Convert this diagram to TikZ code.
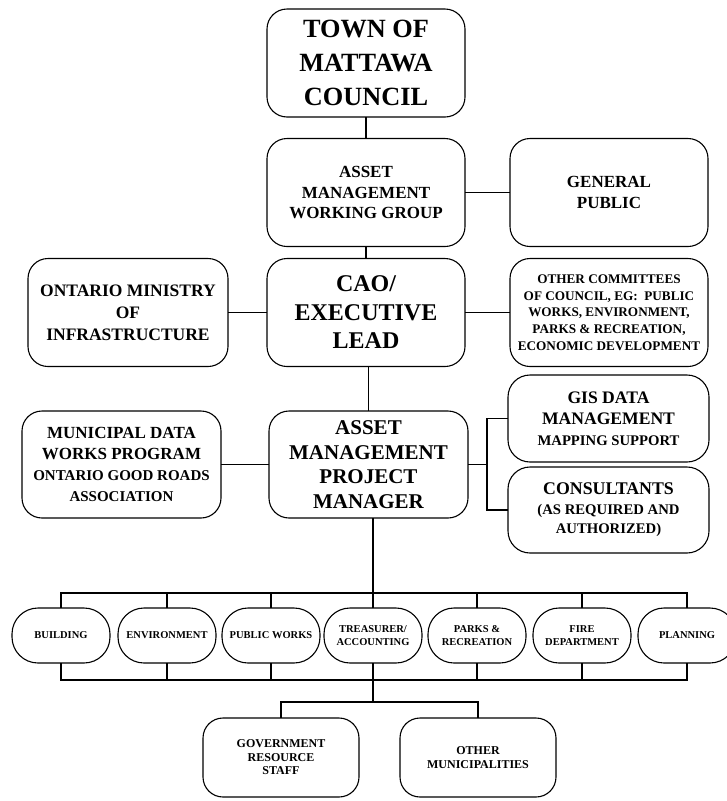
\documentclass[tikz,border=0pt]{standalone}
\usepackage{fontspec}
\setmainfont{Liberation Serif}
\usetikzlibrary{positioning}
\tikzset{
	unit/.style={
		rectangle,
		rounded corners=20pt,
		draw=black, line width=1.1pt,
		inner sep=2pt, outer sep=0pt,
		minimum width=198pt,
		minimum height=108pt,
		align=center,
	},
	side/.style={
		unit,
		rounded corners=22pt,
		minimum width=201pt,
		minimum height=86pt,
	},
	dept/.style={
		unit,
		rounded corners=26pt,
		minimum width=98pt,
		minimum height=55pt,
		font=\bfseries\fontsize{10.5}{13}\selectfont,
	},
	staff/.style={
		unit,
		minimum width=156pt,
		minimum height=79pt,
		font=\bfseries\fontsize{12}{13.5}\selectfont,
	},
	link/.style={line width=1.1pt},
}

\begin{document}
\begin{tikzpicture}[x=1pt, y=-1pt]
\useasboundingbox (0,0) rectangle (727,801);

\node	(council)	[unit, font=\bfseries\fontsize{26.3}{34}\selectfont]	at (366,63)	{TOWN OF\\MATTAWA\\COUNCIL};
\node	(amwg)		[unit, font=\bfseries\fontsize{17}{20.5}\selectfont]	at (366,192.5)	{ASSET\\MANAGEMENT\\WORKING GROUP};
\node	(public)	[unit, font=\bfseries\fontsize{17}{21}\selectfont]	[right=45pt of amwg]	{GENERAL\\PUBLIC};
\node	(cao)		[unit, font=\bfseries\fontsize{24}{28.5}\selectfont]	at (366,312.5)	{CAO/\\EXECUTIVE\\LEAD};
\node	(ministry)	[unit, minimum width=200pt, font=\bfseries\fontsize{17.5}{22}\selectfont]	[left=39pt of cao]	{ONTARIO MINISTRY\\OF\\INFRASTRUCTURE};
\node	(committees)	[unit, font=\bfseries\fontsize{13.2}{16.7}\selectfont]	[right=45pt of cao]	{OTHER COMMITTEES\\OF COUNCIL, EG:\ \ PUBLIC\\WORKS, ENVIRONMENT,\\PARKS \& RECREATION,\\ECONOMIC DEVELOPMENT};
\node	(ampm)		[unit, minimum width=199pt, minimum height=107pt, font=\bfseries\fontsize{21}{24.5}\selectfont]	at (368.5,464.5)	{ASSET\\MANAGEMENT\\PROJECT\\MANAGER};
\node	(municipal)	[unit, minimum width=199pt, minimum height=107pt, font=\bfseries\fontsize{17}{21}\selectfont]	[left=48pt of ampm]	{MUNICIPAL DATA\\WORKS PROGRAM\\\fontsize{15}{21}\selectfont ONTARIO GOOD ROADS\\\fontsize{15}{21}\selectfont ASSOCIATION};
\node	(gis)		[side, minimum height=87pt, font=\bfseries\fontsize{17.6}{21}\selectfont]	at (608.5,418.5)	{GIS DATA\\MANAGEMENT\\\fontsize{14.7}{21}\selectfont MAPPING SUPPORT};
\node	(consultants)	[side, font=\bfseries\fontsize{17.8}{19.5}\selectfont]	at (608.5,510)	{CONSULTANTS\\\fontsize{14.7}{19.5}\selectfont (AS REQUIRED AND\\\fontsize{14.7}{19.5}\selectfont AUTHORIZED)};

\node	(building)	[dept]	at (61,635.5)	{BUILDING};
\node	(environment)	[dept]	at (167,635.5)	{ENVIRONMENT};
\node	(works)		[dept]	at (271,635.5)	{PUBLIC WORKS};
\node	(treasurer)	[dept]	at (373,635.5)	{TREASURER/\\ACCOUNTING};
\node	(parks)		[dept]	at (477,635.5)	{PARKS \&\\RECREATION};
\node	(fire)		[dept]	at (582,635.5)	{FIRE\\DEPARTMENT};
\node	(planning)	[dept]	at (687,635.5)	{PLANNING};

\node	(government)	[staff]	at (281,757.5)	{GOVERNMENT\\RESOURCE\\STAFF};
\node	(others)	[staff]	at (478,757.5)	{OTHER\\MUNICIPALITIES};

\coordinate	(split)	at (487,464.5);
\coordinate	(bustop)	at (373,593);
\coordinate	(busbot)	at (373,680);
\coordinate	(split2)	at (373,702);

\path[link] (council) edge (amwg);
\path[link] (amwg) edge (public);
\path[link] (amwg) edge (cao);
\path[link] (ministry) edge (cao);
\path[link] (cao) edge (committees);
\path[link] (cao.south -| ampm.north) edge (ampm.north);
\path[link] (municipal) edge (ampm);
\draw[link] (ampm.east) -- (split);
\draw[link] (gis.west) -| (split) |- (consultants.west);

\draw[link] (ampm.south -| bustop) -- (treasurer.north);
\draw[link] (building.north) |- (bustop) -| (planning.north);
\draw[link] (environment.north) -- (environment.north |- bustop);
\draw[link] (works.north) -- (works.north |- bustop);
\draw[link] (parks.north) -- (parks.north |- bustop);
\draw[link] (fire.north) -- (fire.north |- bustop);

\draw[link] (building.south) |- (busbot) -| (planning.south);
\draw[link] (environment.south) -- (environment.south |- busbot);
\draw[link] (works.south) -- (works.south |- busbot);
\draw[link] (parks.south) -- (parks.south |- busbot);
\draw[link] (fire.south) -- (fire.south |- busbot);

\draw[link] (treasurer.south) -- (split2);
\draw[link] (government.north) |- (split2) -| (others.north);

\end{tikzpicture}
\end{document}
